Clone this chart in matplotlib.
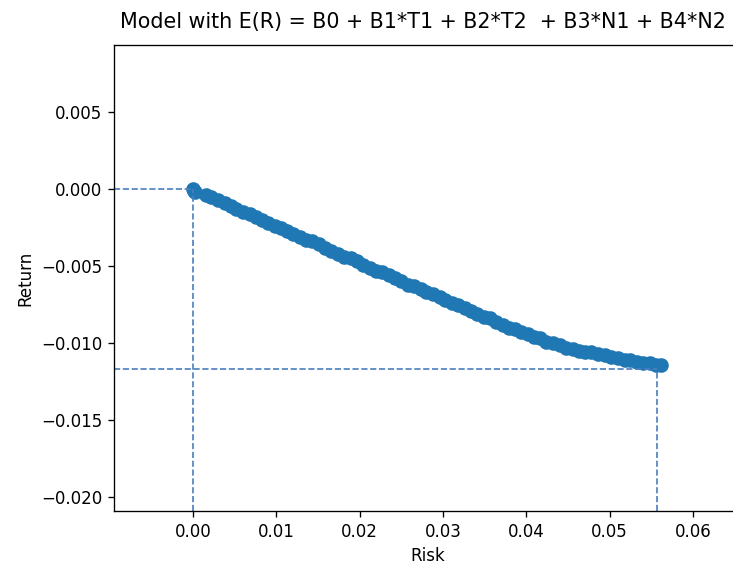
import matplotlib
matplotlib.use("Agg")
import matplotlib.pyplot as plt

# ========== DATA ==========
risk = [0.0000, 0.0001, 0.0002, 0.0015, 0.0022, 0.0030, 0.0038, 0.0045, 0.0052, 0.0060,
        0.0068, 0.0075, 0.0083, 0.0090, 0.0098, 0.0105, 0.0113, 0.0120, 0.0128, 0.0136,
        0.0143, 0.0151, 0.0158, 0.0166, 0.0174, 0.0181, 0.0189, 0.0197, 0.0204, 0.0212,
        0.0219, 0.0227, 0.0235, 0.0242, 0.0250, 0.0258, 0.0265, 0.0273, 0.0280, 0.0288,
        0.0296, 0.0303, 0.0311, 0.0318, 0.0326, 0.0334, 0.0341, 0.0349, 0.0356, 0.0364,
        0.0372, 0.0379, 0.0387, 0.0394, 0.0402, 0.0409, 0.0417, 0.0424, 0.0432, 0.0440,
        0.0448, 0.0456, 0.0463, 0.0470, 0.0478, 0.0486, 0.0494, 0.0502, 0.0510, 0.0518,
        0.0525, 0.0533, 0.0540, 0.0548, 0.0556, 0.0562]
ret = [0.0000, -0.0001, -0.0002, -0.0004, -0.0005, -0.0007, -0.0009, -0.0011, -0.0013, -0.0015,
       -0.0016, -0.0018, -0.0020, -0.0022, -0.0024, -0.0025, -0.0027, -0.0029, -0.0031, -0.0033,
       -0.0034, -0.0036, -0.0038, -0.0040, -0.0042, -0.0044, -0.0045, -0.0047, -0.0049, -0.0051,
       -0.0053, -0.0054, -0.0056, -0.0058, -0.0060, -0.0062, -0.0063, -0.0065, -0.0067, -0.0068,
       -0.0070, -0.0072, -0.0074, -0.0075, -0.0077, -0.0079, -0.0081, -0.0083, -0.0084, -0.0086,
       -0.0088, -0.0090, -0.0091, -0.0093, -0.0094, -0.0096, -0.0097, -0.0099, -0.0100, -0.0101,
       -0.0103, -0.0104, -0.0105, -0.0106, -0.0106, -0.0107, -0.0108, -0.0109, -0.0110, -0.0111,
       -0.0111, -0.0112, -0.0113, -0.0113, -0.0114, -0.0114]

# marked portfolios (min risk / max risk)
mark_risk = [0.0000, 0.0557]
mark_ret = [0.0000, -0.01168]

TITLE = "Model with E(R) = B0 + B1*T1 + B2*T2  + B3*N1 + B4*N2"
XLIM = (-0.0095, 0.0659)
YLIM = (-0.0209, 0.00935)
# ==========================

fig = plt.figure(figsize=(733 / 120, 565 / 120), dpi=120)
# axes runs a bit past the right edge of the picture, like the original crop
ax = fig.add_axes([114 / 733, 54 / 565, 628 / 733, 466 / 565])

ax.scatter(risk, ret, s=60, color="#1f77b4")

for rx, ry in zip(mark_risk, mark_ret):
    ax.hlines(ry, XLIM[0], rx, colors="#4a7ebf", linestyles="--", linewidth=1)
    ax.vlines(rx, YLIM[0], ry, colors="#4a7ebf", linestyles="--", linewidth=1)

ax.set_xlim(*XLIM)
ax.set_ylim(*YLIM)
ax.set_xticks([0.00, 0.01, 0.02, 0.03, 0.04, 0.05, 0.06])
ax.set_yticks([-0.020, -0.015, -0.010, -0.005, 0.000, 0.005])
# keep the title just inside the picture
ax.set_title(TITLE, fontsize=12.4, pad=10, x=0.492)
ax.set_xlabel("Risk")
ax.set_ylabel("Return")

fig.savefig("out.png", dpi=120)
